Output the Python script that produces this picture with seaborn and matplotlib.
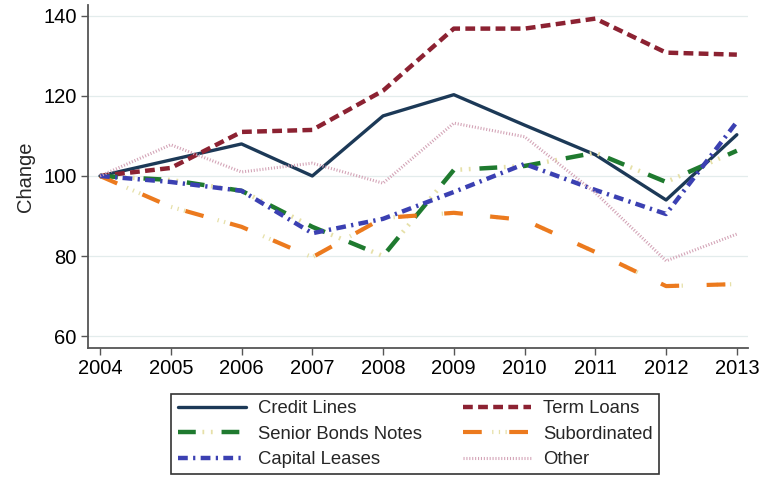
import matplotlib
matplotlib.use("Agg")
import matplotlib.pyplot as plt
from matplotlib.legend_handler import HandlerTuple
import seaborn as sns
import pandas as pd

years = [2004, 2005, 2006, 2007, 2008, 2009, 2010, 2011, 2012, 2013]
credit_lines = [100, 104, 108, 100, 115, 120.3, 112.7, 105.3, 94, 110.3]
term_loans = [100, 102, 111, 111.5, 121.3, 136.8, 136.8, 139.3, 130.8, 130.3]
senior_bonds = [100, 99, 96.3, 87.3, 80, 101.5, 102.5, 105.8, 98.5, 106.3]
subordinated = [100, 92.3, 87.3, 79.7, 89.5, 90.8, 89, 81, 72.5, 73]
capital_leases = [100, 98.5, 96.3, 85.7, 89.3, 96, 103, 96.5, 90.5, 113.5]
other = [100, 107.8, 101, 103.2, 98.2, 113.2, 109.8, 95.8, 78.8, 85.5]

series_names = ["Credit Lines", "Term Loans", "Senior Bonds Notes",
                "Subordinated", "Capital Leases", "Other"]
series_values = [credit_lines, term_loans, senior_bonds,
                 subordinated, capital_leases, other]
y_ticks = [60, 80, 100, 120, 140]
y_label = "Change"

colors = ["#1c3957", "#8c2232", "#1f7a2f", "#ec7a1e", "#3b40b2", "#d3a3b6"]
widths = [2.4, 3.2, 3.2, 3.0, 3.2, 2.2]
# main dash pattern (in units of linewidth); None = solid
main_ls = ["-", (0, (2.2, 1.2)), (0, (4.0, 5.8)), (0, (4.5, 6.6)),
           (0, (2.2, 1.2, 0.5, 1.2)), (0, (0.35, 0.6))]
# faint secondary dots filling the gaps (pale yellow), or None
dot_ls = [None, None, (4.3, (0.4, 1.5, 0.4, 7.5)),
          (4.6, (0.3, 1.3, 0.3, 1.3, 0.3, 8.1)), None, None]
dot_color = "#e6e0a8"

sns.set_style("white")
plt.rcParams['font.family'] = ['Liberation Sans', 'DejaVu Sans']

fig = plt.figure(figsize=(7.65, 4.79), dpi=100)
ax = fig.add_axes([0.115, 0.274, 0.863, 0.716])

df = pd.DataFrame({"Year": years})
for name, vals in zip(series_names, series_values):
    df[name] = vals
long = df.melt(id_vars="Year", var_name="Series", value_name="Value")

handles = {}
for name, c, w, ls, dls in zip(series_names, colors, widths, main_ls, dot_ls):
    sub = long[long["Series"] == name]
    parts = []
    if dls is not None:
        sns.lineplot(data=sub, x="Year", y="Value", color=dot_color, linewidth=w,
                     ax=ax, legend=False)
        dl = ax.get_lines()[-1]
        dl.set_linestyle(dls)
        parts.append(dl)
    sns.lineplot(data=sub, x="Year", y="Value", color=c, linewidth=w,
                 ax=ax, legend=False)
    ml = ax.get_lines()[-1]
    ml.set_linestyle(ls)
    parts.append(ml)
    handles[name] = tuple(parts)

ax.set_xlim(2003.83, 2013.16)
ax.set_ylim(57.1, 142.75)
ax.set_xticks(years)
ax.set_yticks(y_ticks)
ax.tick_params(axis="both", labelsize=14.5, length=5, width=1, color="#555555",
               labelcolor="black", direction="out", left=True, bottom=True, pad=3)
ax.grid(axis="y", color="#e3ecec", linewidth=0.9)
ax.set_axisbelow(True)
for s in ["top", "right"]:
    ax.spines[s].set_visible(False)
for s in ["left", "bottom"]:
    ax.spines[s].set_color("#555555")
    ax.spines[s].set_linewidth(1.3)
ax.set_xlabel("")
ax.set_ylabel(y_label, fontsize=14.5, labelpad=6)

# legend in row order: column-first fill => reorder
order = ["Credit Lines", "Senior Bonds Notes", "Capital Leases",
         "Term Loans", "Subordinated", "Other"]
leg = fig.legend([handles[n] for n in order], order, ncol=2, loc="center",
                 bbox_to_anchor=(0.5425, 0.0935),
                 handler_map={tuple: HandlerTuple(ndivide=1)},
                 frameon=True, fancybox=False, fontsize=13.3, handlelength=3.7,
                 handletextpad=0.65, labelspacing=0.45,
                 borderpad=0.35, borderaxespad=0, columnspacing=2.2)
leg.get_frame().set_edgecolor("black")
leg.get_frame().set_linewidth(1.2)

fig.savefig("out.png", dpi=100)
